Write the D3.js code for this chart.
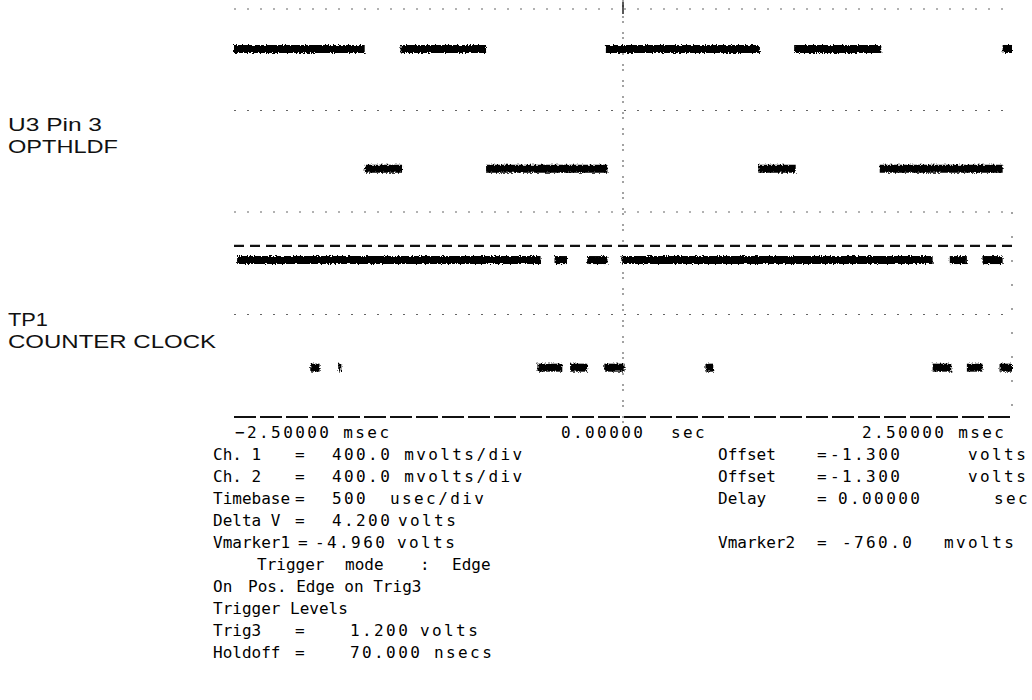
<!DOCTYPE html>
<html>
<head>
<meta charset="utf-8">
<script src="https://cdn.jsdelivr.net/npm/d3@7"></script>
<style>
  body { margin: 0; background: #fff; }
  svg { display: block; }
  .label { font-family: 'Liberation Sans', Arial, sans-serif; font-size: 18px; fill: #111; }
  .mono { font-family: 'DejaVu Sans Mono', 'Liberation Mono', monospace; font-size: 16px; fill: #000; }
  .w { letter-spacing: 0px; }
  .v { letter-spacing: 2.4px; }
</style>
</head>
<body>
<div id="chart"></div>
<script>
// time window in msec (500 usec/div, 10 div)
const timeDomain = [-2.5, 2.5];
const voltDomain = [-2.9, 0.3];

// channel 1 : U3 Pin 3 OPTHLDF  (segments in msec)
const ch1High = -0.33;
const ch1Low = -2.22;
const ch1HighSegs = [[-2.5, -1.66], [-1.43, -0.88], [-0.11, 0.88], [1.10, 1.66], [2.44, 2.5]];
const ch1LowSegs = [[-1.66, -1.42], [-0.88, -0.10], [0.87, 1.11], [1.65, 2.44]];

// channel 2 : TP1 COUNTER CLOCK
const ch2High = -0.45;
const ch2Low = -2.13;
const ch2Marker = -0.23;
const ch2HighSegs = [[-2.48, -0.53], [-0.44, -0.36], [-0.23, -0.10], [-0.01, 1.99], [2.10, 2.21], [2.31, 2.44]];
const ch2LowSegs = [[-2.01, -1.95], [-1.83, -1.81], [-0.55, -0.39], [-0.34, -0.23], [-0.12, 0.01], [0.53, 0.58], [1.99, 2.11], [2.21, 2.31], [2.42, 2.5]];

const channelLabels = [['U3 Pin 3', 'OPTHLDF'], ['TP1', 'COUNTER CLOCK']];
const timeTicks = [-2.5, 0, 2.5];

// readout block below the screen: [x, text, style] (w = word, v = value)
const readout = [
  [[213, 'Ch. 1', 'w'], [295, '=', 'w'], [332, '400.0 mvolts/div', 'v'], [718, 'Offset', 'w'], [817, '=', 'w'], [830, '-1.300', 'v'], [968, 'volts', 'v']],
  [[213, 'Ch. 2', 'w'], [295, '=', 'w'], [332, '400.0 mvolts/div', 'v'], [718, 'Offset', 'w'], [817, '=', 'w'], [830, '-1.300', 'v'], [968, 'volts', 'v']],
  [[213, 'Timebase', 'w'], [295, '=', 'w'], [332, '500', 'v'], [390, 'usec/div', 'v'], [718, 'Delay', 'w'], [817, '=', 'w'], [838, '0.00000', 'v'], [994, 'sec', 'v']],
  [[213, 'Delta V', 'w'], [295, '=', 'w'], [332, '4.200', 'v'], [398, 'volts', 'v']],
  [[213, 'Vmarker1', 'w'], [298, '=', 'w'], [315, '-4.960', 'v'], [397, 'volts', 'v'], [718, 'Vmarker2', 'w'], [817, '=', 'w'], [842, '-760.0', 'v'], [944, 'mvolts', 'v']],
  [[257, 'Trigger', 'w'], [345, 'mode', 'w'], [420, ':', 'w'], [452, 'Edge', 'w']],
  [[213, 'On', 'w'], [248, 'Pos. Edge on Trig3', 'w']],
  [[213, 'Trigger Levels', 'w']],
  [[213, 'Trig3', 'w'], [295, '=', 'w'], [350, '1.200', 'v'], [420, 'volts', 'v']],
  [[213, 'Holdoff', 'w'], [295, '=', 'w'], [350, '70.000', 'v'], [434, 'nsecs', 'v']]
];

const width = 1032, height = 700;
const svg = d3.select('#chart').append('svg').attr('width', width).attr('height', height);

const defs = svg.append('defs');
const f = defs.append('filter').attr('id', 'rough').attr('x', '-5%').attr('y', '-50%').attr('width', '110%').attr('height', '200%');
f.append('feTurbulence').attr('type', 'fractalNoise').attr('baseFrequency', '0.6').attr('numOctaves', 2).attr('seed', 3).attr('result', 'n');
f.append('feDisplacementMap').attr('in', 'SourceGraphic').attr('in2', 'n').attr('scale', 4);

const x = d3.scaleLinear().domain(timeDomain).range([234, 1012]);
const y1 = d3.scaleLinear().domain(voltDomain).range([212, 9]);
const y2 = d3.scaleLinear().domain(voltDomain).range([417, 212]);

// screen grid: sparse dotted lines of each channel
const mid = (voltDomain[0] + voltDomain[1]) / 2;
const grid = svg.append('g').attr('stroke', '#666').attr('stroke-width', 1.2).attr('stroke-dasharray', '2,11');
[y1(voltDomain[1]), y1(mid), y1(voltDomain[0]), y2(mid)].forEach((yy) => {
  grid.append('line').attr('x1', x(timeDomain[0])).attr('x2', x(timeDomain[1])).attr('y1', yy).attr('y2', yy);
});
// centre vertical axis and right edge
grid.append('line').attr('x1', x(0)).attr('x2', x(0)).attr('y1', 0).attr('y2', y2(voltDomain[0]) + 8)
  .attr('stroke-dasharray', '2,3,2,9');
grid.append('line').attr('x1', x(timeDomain[1])).attr('x2', x(timeDomain[1])).attr('y1', y1(voltDomain[0]))
  .attr('y2', y2(voltDomain[0])).attr('stroke-dasharray', '2,22');

// bottom time axis line
svg.append('line')
  .attr('x1', x(timeDomain[0])).attr('x2', x(timeDomain[1]))
  .attr('y1', y2(voltDomain[0])).attr('y2', y2(voltDomain[0]))
  .attr('stroke', '#111').attr('stroke-width', 2).attr('stroke-dasharray', '22,4');

// voltage marker on channel 2
svg.append('line')
  .attr('x1', x(timeDomain[0])).attr('x2', x(timeDomain[1]))
  .attr('y1', y2(ch2Marker)).attr('y2', y2(ch2Marker))
  .attr('stroke', '#111').attr('stroke-width', 2.2).attr('stroke-dasharray', '10,6');

// traces
const traces = svg.append('g').attr('filter', 'url(#rough)').attr('stroke', '#000').attr('stroke-width', 8);
function drawSegs(segs, level, yScale) {
  traces.append('g').selectAll('line').data(segs).join('line')
    .attr('x1', (d) => x(d[0])).attr('x2', (d) => x(d[1]))
    .attr('y1', yScale(level)).attr('y2', yScale(level));
}
drawSegs(ch1HighSegs, ch1High, y1);
drawSegs(ch1LowSegs, ch1Low, y1);
drawSegs(ch2HighSegs, ch2High, y2);
drawSegs(ch2LowSegs, ch2Low, y2);

// trigger mark at t=0 on top
svg.append('line').attr('x1', x(0)).attr('x2', x(0)).attr('y1', 2).attr('y2', 14).attr('stroke', '#222').attr('stroke-width', 1.5);

// channel labels
const labelWidths = [[94, 110], [40, 208]];
const labelY = [[131, 153], [326, 348]];
channelLabels.forEach((lines, i) => {
  lines.forEach((t, j) => {
    svg.append('text').attr('class', 'label').attr('x', 8).attr('y', labelY[i][j])
      .attr('textLength', labelWidths[i][j]).attr('lengthAdjust', 'spacingAndGlyphs').text(t);
  });
});

// time tick labels
const fmt = d3.format('.5f');
const tickText = svg.append('g').attr('class', 'mono v');
timeTicks.forEach((t) => {
  if (t < 0) {
    tickText.append('text').attr('x', x(t) + 1).attr('y', 438).text(fmt(t) + ' msec');
  } else if (t === 0) {
    tickText.append('text').attr('x', x(t) - 62).attr('y', 438).text(fmt(t));
    tickText.append('text').attr('x', x(t) + 48).attr('y', 438).text('sec');
  } else {
    tickText.append('text').attr('x', x(t) - 150).attr('y', 438).text(fmt(t) + ' msec');
  }
});

// readout block
const rg = svg.append('g').attr('class', 'mono');
readout.forEach((row, i) => {
  row.forEach(([x0, t, cls]) => rg.append('text').attr('class', cls).attr('x', x0).attr('y', 460 + i * 22).text(t));
});
</script>
</body>
</html>
